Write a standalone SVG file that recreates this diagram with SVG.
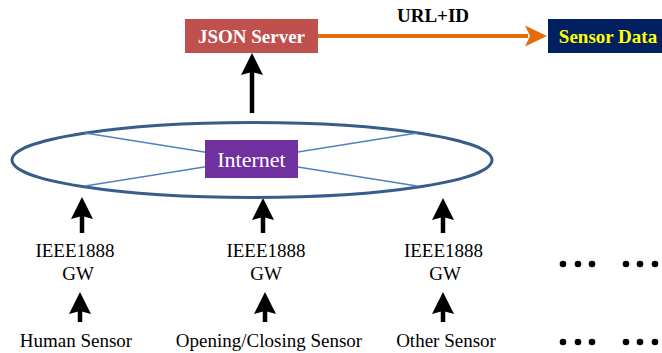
<svg xmlns="http://www.w3.org/2000/svg" width="662" height="353" viewBox="0 0 662 353">
<style>
text{font-family:"Liberation Serif","Times New Roman",serif;fill:#000}
.b{font-weight:bold}
.lbl{font-size:19px;text-anchor:middle}
.shaft{stroke:#000;stroke-width:4.5;fill:none}
.head{fill:#000}
</style>
<defs>
<path id="ah" d="M0 0 L11 22 L0 19 L-11 22 Z"/>
</defs>
<rect width="662" height="353" fill="#fff"/>
<g id="connectors">
<line class="shaft" x1="252" y1="113" x2="252" y2="70"/>
<use href="#ah" class="head" x="252" y="53"/>
<line x1="318" y1="36" x2="528" y2="36" stroke="#E46C0A" stroke-width="4"/>
<path d="M547 36 L525 25.5 L530 36 L525 46.5 Z" fill="#E46C0A"/>
<text class="b" x="433" y="22" font-size="19" text-anchor="middle">URL+ID</text>
<line class="shaft" x1="82" y1="233" x2="82" y2="214"/>
<use href="#ah" class="head" x="82" y="197"/>
<line class="shaft" x1="263" y1="233" x2="263" y2="214"/>
<use href="#ah" class="head" x="263" y="198"/>
<line class="shaft" x1="443" y1="233" x2="443" y2="214"/>
<use href="#ah" class="head" x="443" y="198"/>
<line class="shaft" x1="80" y1="322" x2="80" y2="309"/>
<use href="#ah" class="head" x="80" y="292"/>
<line class="shaft" x1="265" y1="322" x2="265" y2="309"/>
<use href="#ah" class="head" x="265" y="292"/>
<line class="shaft" x1="443" y1="322" x2="443" y2="309"/>
<use href="#ah" class="head" x="443" y="292"/>
</g>
<g id="json-server">
<rect x="185" y="19" width="133" height="34" fill="#C0504D"/>
<text class="b" x="251.5" y="43" font-size="19" text-anchor="middle" style="fill:#fff">JSON Server</text>
</g>
<g id="sensor-data">
<rect x="548" y="19" width="114" height="34" fill="#002060"/>
<text class="b" x="608" y="43" font-size="19" text-anchor="middle" style="fill:#FFFF00">Sensor Data</text>
</g>
<g id="internet">
<ellipse cx="252" cy="160" rx="240" ry="37.5" fill="none" stroke="#385D8A" stroke-width="3"/>
<line x1="85" y1="133" x2="417" y2="186" stroke="#4F81BD" stroke-width="1.5"/>
<line x1="85" y1="186" x2="417" y2="133" stroke="#4F81BD" stroke-width="1.5"/>
<rect x="205" y="140" width="93" height="38" fill="#7030A0"/>
<text x="251.5" y="167" font-size="22" text-anchor="middle" style="fill:#fff">Internet</text>
</g>
<g id="gw1">
<text class="lbl" x="75" y="257">IEEE1888</text>
<text class="lbl" x="78" y="280">GW</text>
</g>
<g id="gw2">
<text class="lbl" x="266" y="257">IEEE1888</text>
<text class="lbl" x="266" y="280">GW</text>
</g>
<g id="gw3">
<text class="lbl" x="443.5" y="257">IEEE1888</text>
<text class="lbl" x="445" y="280">GW</text>
</g>
<g id="human-sensor">
<text class="lbl" x="76" y="347">Human Sensor</text>
</g>
<g id="opening-closing-sensor">
<text class="lbl" x="269" y="347">Opening/Closing Sensor</text>
</g>
<g id="other-sensor">
<text class="lbl" x="446" y="347">Other Sensor</text>
</g>
<g id="dots" fill="#000">
<circle cx="563" cy="264" r="3.3"/><circle cx="578" cy="264" r="3.3"/><circle cx="592" cy="264" r="3.3"/>
<circle cx="626" cy="264" r="3.3"/><circle cx="640" cy="264" r="3.3"/><circle cx="655" cy="264" r="3.3"/>
<circle cx="563" cy="342" r="3.3"/><circle cx="578" cy="342" r="3.3"/><circle cx="592" cy="342" r="3.3"/>
<circle cx="626" cy="342" r="3.3"/><circle cx="640" cy="342" r="3.3"/><circle cx="655" cy="342" r="3.3"/>
</g>
</svg>
